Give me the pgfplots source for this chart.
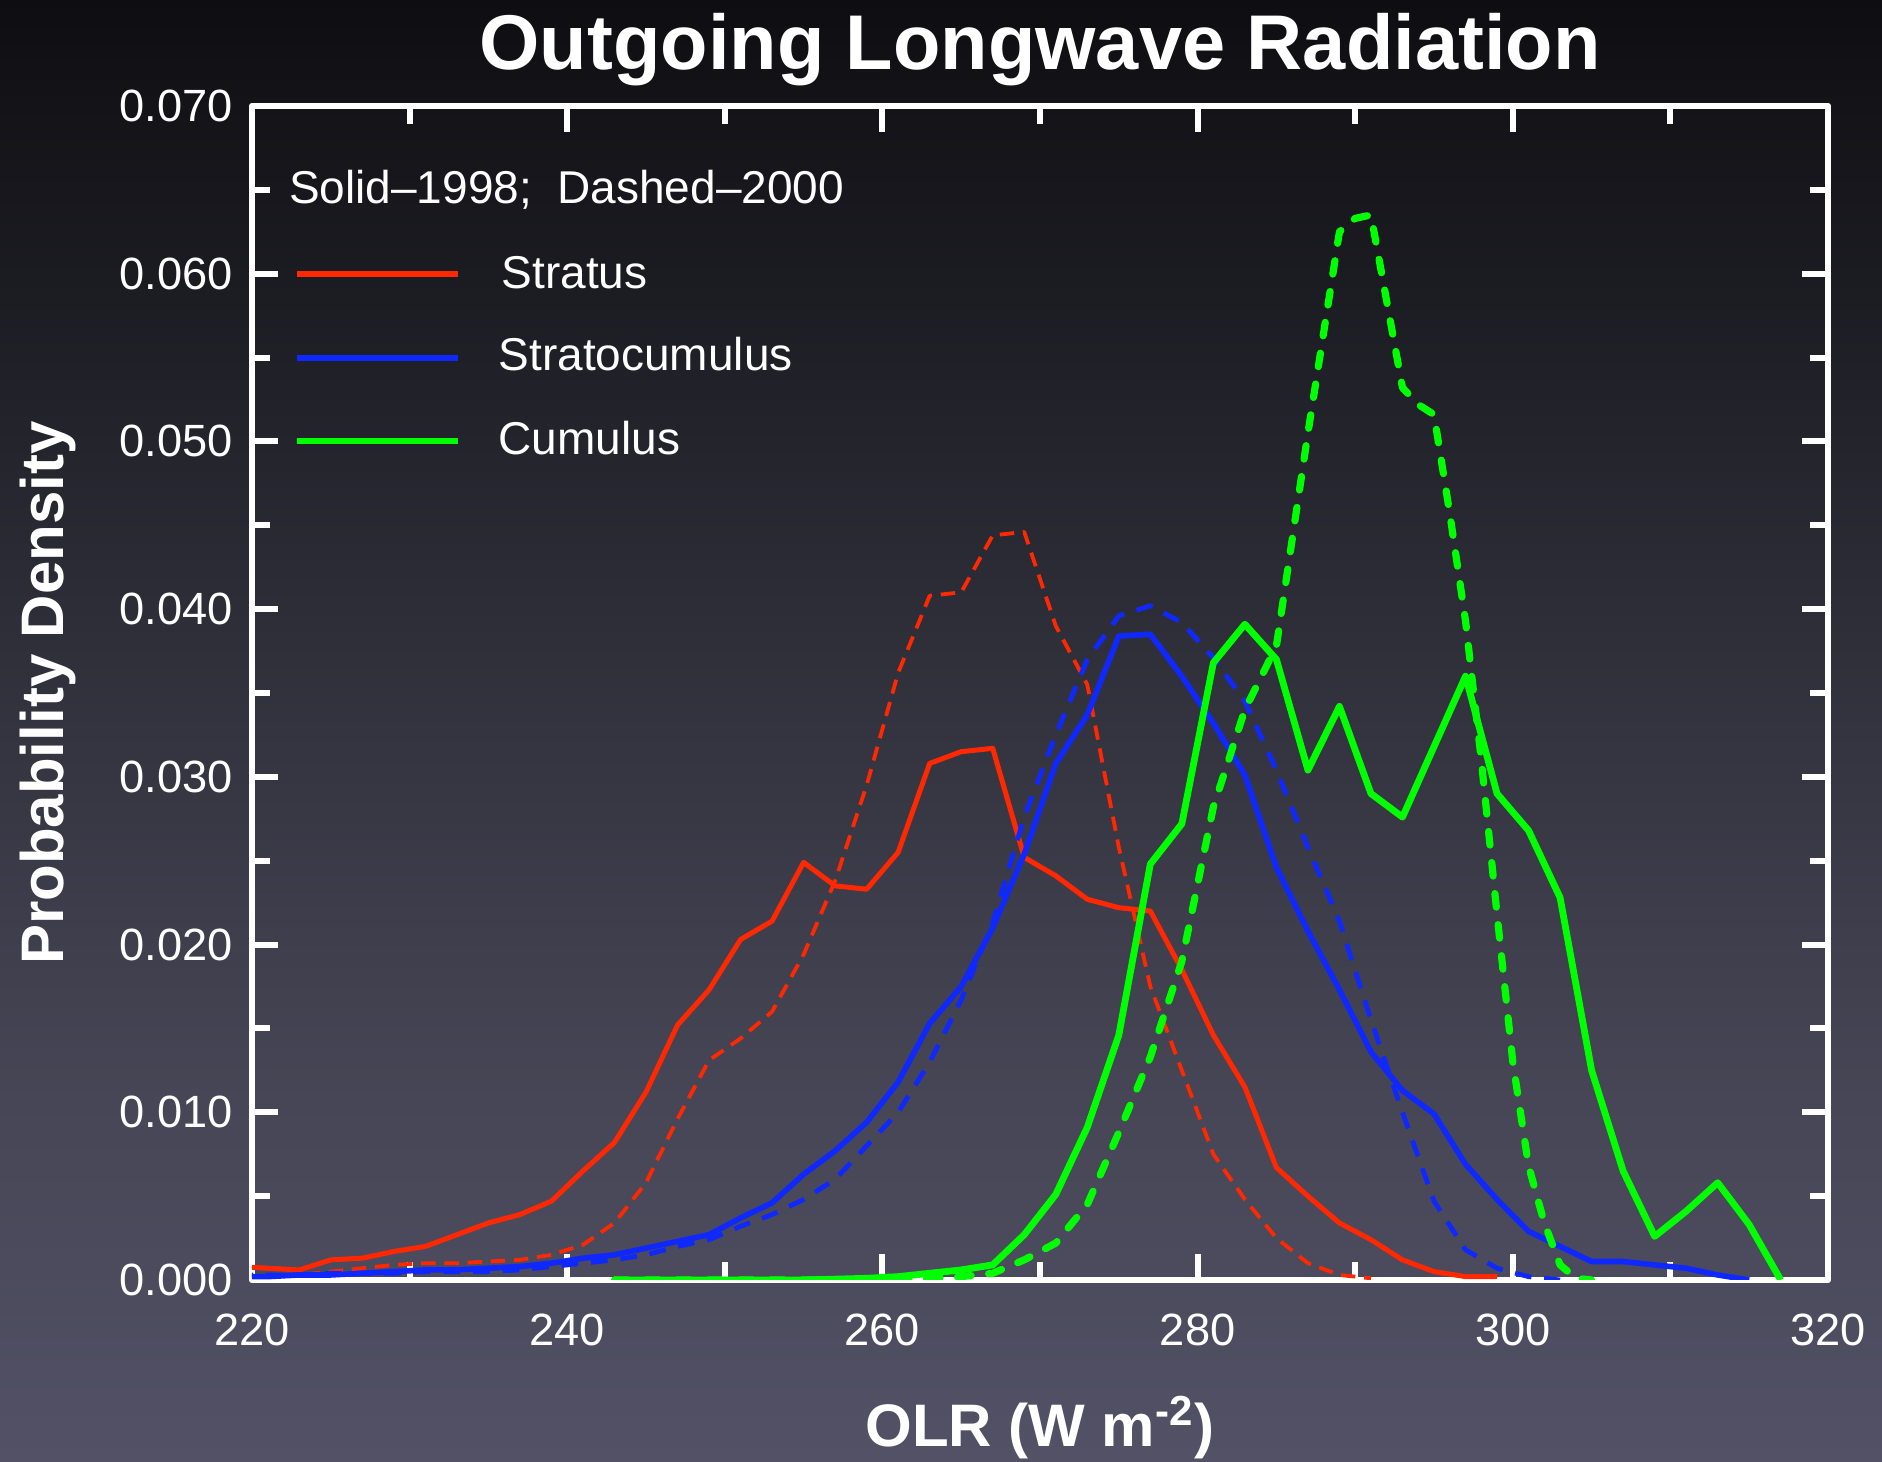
\documentclass[border=0pt]{standalone}
\usepackage{fontspec}
\setmainfont{Liberation Sans}
\usepackage{pgfplots}
\pgfplotsset{compat=1.18}

\definecolor{olrred}{RGB}{255,40,0}
\definecolor{olrblue}{RGB}{15,40,255}
\definecolor{olrgreen}{RGB}{0,255,0}
\definecolor{bgtop}{RGB}{14,14,18}
\definecolor{bghigh}{RGB}{28,28,35}
\definecolor{bgmid}{RGB}{52,52,64}
\definecolor{bglow}{RGB}{70,70,86}
\definecolor{bgbot}{RGB}{82,81,102}

% tikz maps the path onto 25bp..75bp of the shading
\pgfdeclareverticalshading{olrbg}{100bp}{color(0bp)=(bgbot); color(25bp)=(bgbot);
  color(37.4bp)=(bglow); color(50bp)=(bgmid); color(64.75bp)=(bghigh);
  color(75bp)=(bgtop); color(100bp)=(bgtop)}

\begin{document}
\begin{tikzpicture}
\useasboundingbox (0,0) rectangle (470.5pt,365.5pt);
\shade[shading=olrbg] (0,0) rectangle (470.5pt,365.5pt);

\begin{axis}[
  at={(63pt,45.5pt)}, anchor=south west,
  scale only axis, width=394pt, height=293.5pt,
  xmin=220, xmax=320, ymin=0, ymax=0.07,
  xtick={220,240,260,280,300,320},
  ytick={0,0.01,0.02,0.03,0.04,0.05,0.06,0.07},
  minor x tick num=1, minor y tick num=1,
  tick align=inside, tick pos=both,
  major tick length=6.5pt, minor tick length=4.5pt,
  axis line style={white, line width=1.6pt},
  every tick/.style={white, line width=1.5pt},
  /pgf/number format/assume math mode=true,
  scaled y ticks=false,
  yticklabel style={/pgf/number format/.cd, fixed, fixed zerofill, precision=3, /tikz/.cd, xshift=-1.3pt},
  xticklabel style={yshift=-4.9pt},
  tick label style={font=\fontsize{11.3}{13}\selectfont, text=white},
  title={Outgoing Longwave Radiation},
  every axis title/.style={font=\fontsize{19.4}{22}\selectfont\bfseries, text=white,
    at={(axis description cs:0.5,1.031)}, anchor=base},
  xlabel={OLR (W m\textsuperscript{-2})},
  xlabel style={font=\fontsize{15}{18}\selectfont\bfseries, text=white,
    at={(axis description cs:0.5,-0.1414)}, anchor=base},
  ylabel={Probability Density},
  ylabel style={font=\fontsize{15}{18}\selectfont\bfseries, text=white,
    at={(axis description cs:-0.1294,0.5)}, anchor=center},
  line join=round,
]

% Stratus, 2000 (dashed)
\addplot[olrred, line width=0.95pt, dash pattern=on 3.6pt off 2.2pt] coordinates {
 (219,0.0001) (221,0.0002) (223,0.0003) (225,0.0005) (227,0.0007) (229,0.0009)
 (231,0.0010) (233,0.0010) (235,0.0011) (237,0.0012) (239,0.0015) (241,0.0021)
 (243,0.0034) (245,0.0058) (247,0.0096) (249,0.0131) (251,0.0144) (253,0.0160)
 (255,0.0194) (257,0.0238) (259,0.0295) (261,0.0362) (263,0.0408) (265,0.0410)
 (267,0.0444) (269,0.0446) (271,0.0390) (273,0.0355) (275,0.0258) (277,0.0175)
 (279,0.0125) (281,0.0075) (283,0.0048) (285,0.0025) (287,0.0010) (289,0.0003)
 (291,0.0001)
};
% Stratus, 1998 (solid)
\addplot[olrred, line width=1.25pt] coordinates {
 (219,0.0008) (221,0.0007) (223,0.0006) (225,0.0012) (227,0.0013) (229,0.0017)
 (231,0.0020) (233,0.0027) (235,0.0034) (237,0.0039) (239,0.0047) (241,0.0065)
 (243,0.0082) (245,0.0112) (247,0.0152) (249,0.0173) (251,0.0203) (253,0.0214)
 (255,0.0249) (257,0.0235) (259,0.0233) (261,0.0255) (263,0.0308) (265,0.0315)
 (267,0.0317) (269,0.0252) (271,0.0241) (273,0.0227) (275,0.0222) (277,0.0220)
 (279,0.0185) (281,0.0146) (283,0.0115) (285,0.0067) (287,0.0050) (289,0.0034)
 (291,0.0024) (293,0.0012) (295,0.0005) (297,0.0002) (299,0.0002)
};
% Stratocumulus, 2000 (dashed)
\addplot[olrblue, line width=1.2pt, dash pattern=on 4.2pt off 3.2pt] coordinates {
 (219,0.0003) (221,0.0003) (223,0.0003) (225,0.0004) (227,0.0004) (229,0.0004)
 (231,0.0005) (233,0.0005) (235,0.0005) (237,0.0006) (239,0.0008) (241,0.0010)
 (243,0.0012) (245,0.0015) (247,0.0020) (249,0.0024) (251,0.0032) (253,0.0039)
 (255,0.0048) (257,0.0060) (259,0.0080) (261,0.0100) (263,0.0130) (265,0.0167)
 (267,0.0213) (269,0.0276) (271,0.0325) (273,0.0370) (275,0.0396) (277,0.0402)
 (279,0.0392) (281,0.0371) (283,0.0345) (285,0.0304) (287,0.0258) (289,0.0214)
 (291,0.0155) (293,0.0100) (295,0.0047) (297,0.0018) (299,0.0007) (301,0.0002)
 (303,0.0000)
};
% Stratocumulus, 1998 (solid)
\addplot[olrblue, line width=1.4pt] coordinates {
 (219,0.0002) (221,0.0002) (223,0.0003) (225,0.0003) (227,0.0004) (229,0.0005)
 (231,0.0006) (233,0.0006) (235,0.0007) (237,0.0008) (239,0.0010) (241,0.0013)
 (243,0.0015) (245,0.0019) (247,0.0023) (249,0.0027) (251,0.0037) (253,0.0046)
 (255,0.0063) (257,0.0077) (259,0.0094) (261,0.0118) (263,0.0153) (265,0.0175)
 (267,0.0210) (269,0.0254) (271,0.0308) (273,0.0337) (275,0.0384) (277,0.0385)
 (279,0.0360) (281,0.0332) (283,0.0301) (285,0.0246) (287,0.0208) (289,0.0173)
 (291,0.0136) (293,0.0113) (295,0.0099) (297,0.0069) (299,0.0048) (301,0.0029)
 (303,0.0020) (305,0.0011) (307,0.0011) (309,0.0009) (311,0.0007) (313,0.0003)
 (315,0.0000)
};
% Cumulus, 2000 (dashed)
\addplot[olrgreen, line width=1.8pt, line cap=round, dash pattern=on 3.4pt off 4.4pt] coordinates {
 (243,0.0000) (247,0.0000) (251,0.0000) (255,0.0000) (259,0.0000) (261,0.0000)
 (263,0.0001) (265,0.0002) (267,0.0004) (269,0.0012) (271,0.0022) (273,0.0045)
 (275,0.0088) (277,0.0133) (279,0.0190) (281,0.0282) (283,0.0340) (285,0.0378)
 (287,0.0505) (289,0.0625) (290,0.0633) (291,0.0635) (293,0.0532) (294,0.0522)
 (295,0.0516) (296,0.0457) (297,0.0393) (298,0.0310) (299,0.0218) (300,0.0130)
 (301,0.0068) (302,0.0034) (303,0.0009) (304,0.0001) (305,0.0000)
};
% Cumulus, 1998 (solid)
\addplot[olrgreen, line width=1.7pt] coordinates {
 (243,0.0000) (247,0.0000) (251,0.0000) (255,0.0000) (259,0.0001) (261,0.0002)
 (263,0.0004) (265,0.0006) (267,0.0009) (269,0.0027) (271,0.0051) (273,0.0091)
 (275,0.0146) (277,0.0248) (279,0.0272) (281,0.0368) (283,0.0391) (285,0.0370)
 (287,0.0304) (289,0.0342) (291,0.0290) (293,0.0276) (295,0.0318) (297,0.0360)
 (299,0.0290) (301,0.0268) (303,0.0228) (305,0.0125) (307,0.0065) (309,0.0026)
 (311,0.0041) (313,0.0058) (315,0.0033) (317,0.0000)
};

% legend
\node[anchor=base west, inner sep=0pt, text=white, font=\fontsize{11.5}{14}\selectfont]
  at (axis cs:222.3,0.0642) {Solid–1998;\ \ Dashed–2000};
\draw[olrred, line width=1.5pt] (axis cs:222.85,0.060) -- (axis cs:233.05,0.060);
\draw[olrblue, line width=1.5pt] (axis cs:222.85,0.055) -- (axis cs:233.05,0.055);
\draw[olrgreen, line width=1.5pt] (axis cs:222.85,0.050) -- (axis cs:233.05,0.050);
\node[anchor=base west, inner sep=0pt, text=white, font=\fontsize{11.5}{14}\selectfont]
  at (axis cs:235.8,0.0591) {Stratus};
\node[anchor=base west, inner sep=0pt, text=white, font=\fontsize{11.5}{14}\selectfont]
  at (axis cs:235.6,0.0542) {Stratocumulus};
\node[anchor=base west, inner sep=0pt, text=white, font=\fontsize{11.5}{14}\selectfont]
  at (axis cs:235.6,0.0492) {Cumulus};
\end{axis}
\end{tikzpicture}
\end{document}
